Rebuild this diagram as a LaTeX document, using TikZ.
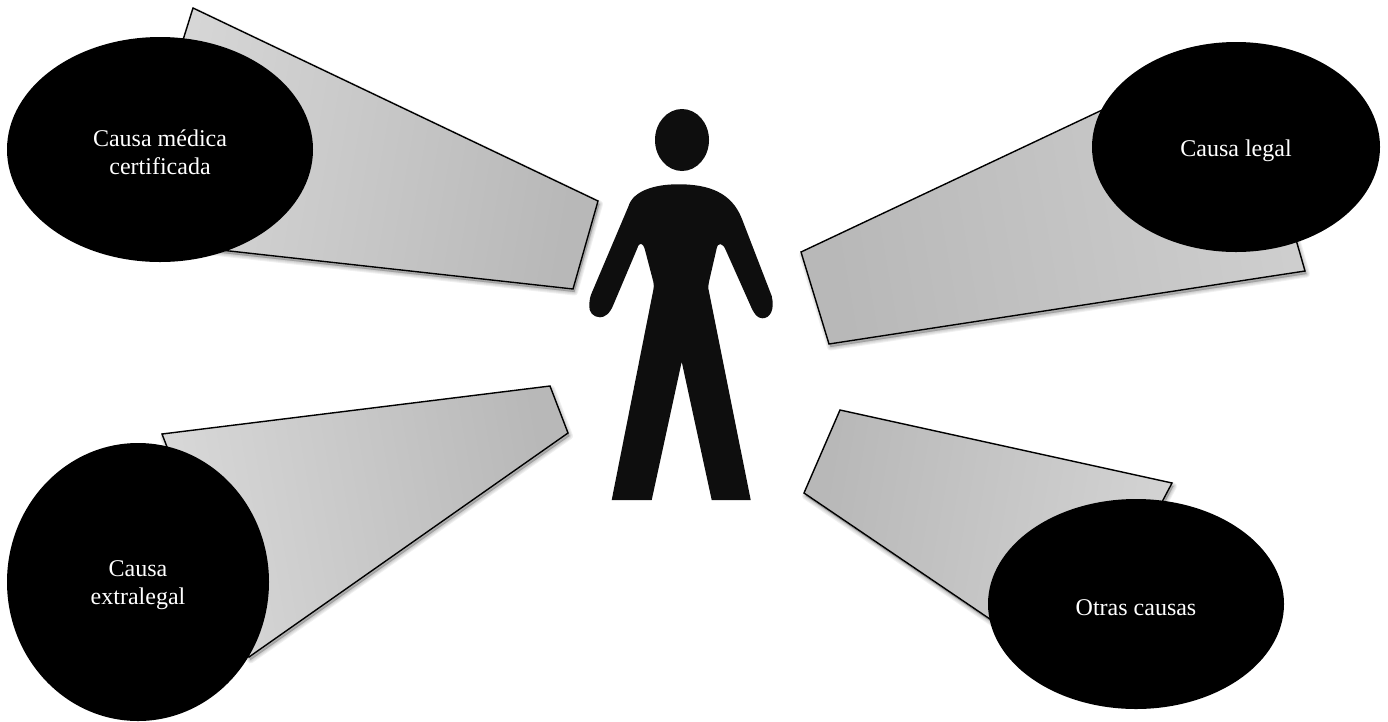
\documentclass[tikz,border=0pt]{standalone}
\usepackage{fontspec}
\setmainfont{Liberation Serif}
\usetikzlibrary{shapes.geometric}
\definecolor{figure}{HTML}{0E0E0E}
\tikzset{
  beam/.style={draw=black, line width=1.4pt, line join=miter},
  blob/.style={ellipse, fill=black, text=white, inner sep=0pt, align=center,
    font=\fontsize{24}{28}\selectfont},
}
% soft shadow under a beam
\newcommand{\beamshadow}[1]{
  \foreach \w in {7,5,3,1}
    \draw[black, opacity=0.06, line width=\w pt, line join=round, fill=black, fill opacity=0.06,
      xshift=1.5pt, yshift=-3pt] #1 -- cycle;
}
\begin{document}
\begin{tikzpicture}[x=1pt,y=-1pt]
  \useasboundingbox (0,0) rectangle (1388,721);
  % beams
  \beamshadow{(193,8) -- (598,201) -- (573,289) -- (121,239)}
  \beamshadow{(801,252) -- (1240,45) -- (1305,271) -- (829,344)}
  \beamshadow{(162,434) -- (550,386) -- (568,433) -- (249,657)}
  \beamshadow{(840,410) -- (1172,483) -- (1071,674) -- (804,493)}
  \draw[beam, left color=black!15, right color=black!28, shading angle=80]
    (193,8) -- (598,201) -- (573,289) -- (121,239) -- cycle;
  \draw[beam, left color=black!28, right color=black!19, shading angle=100]
    (801,252) -- (1240,45) -- (1305,271) -- (829,344) -- cycle;
  \draw[beam, left color=black!15, right color=black!28, shading angle=100]
    (162,434) -- (550,386) -- (568,433) -- (249,657) -- cycle;
  \draw[beam, left color=black!28, right color=black!17, shading angle=80]
    (840,410) -- (1172,483) -- (1071,674) -- (804,493) -- cycle;
  % causes
  \node[blob, minimum width=306pt, minimum height=225pt, text height=50pt] (medica) at (160,149.5) {Causa médica\\certificada};
  \node[blob, minimum width=288pt, minimum height=210pt, text height=24pt] (legal) at (1236,147) {Causa legal};
  \node[blob, minimum width=262pt, minimum height=278pt, text height=50pt] (extralegal) at (138,582) {Causa\\extralegal};
  \node[blob, minimum width=296pt, minimum height=210pt, text height=24pt] (otras) at (1136,604) {Otras causas};
  % person
  \node[ellipse, fill=figure, inner sep=0pt, minimum width=54pt, minimum height=62pt] (head) at (682,140) {};
  \fill[figure] (677.3,184.3)
    .. controls (710,184) and (731.7,193.3) .. (741.7,218.3)
    -- (771.7,296)
    .. controls (775,310) and (770,318.3) .. (762.3,318.3)
    .. controls (757.3,318.3) and (754,313.3) .. (751.7,308.3)
    -- (725.7,250)
    .. controls (723,243) and (718,242) .. (716.7,248.3)
    -- (709,281.7)
    .. controls (708,285) and (708,288) .. (709,291.7)
    -- (750.7,500) -- (711.7,500) -- (681.7,361.7) -- (651.7,500) -- (611.7,500)
    -- (653.3,290)
    .. controls (654,287) and (654,285) .. (653.3,281.7)
    -- (645,250)
    .. controls (643,242) and (639,242) .. (637.3,248.3)
    -- (613.3,305)
    .. controls (610,313.3) and (605,317.3) .. (600,317.3)
    .. controls (593.3,317.3) and (588.3,311.7) .. (589.3,305)
    .. controls (589.5,300) and (590,297) .. (591.7,293)
    -- (628.3,206.7)
    .. controls (633,190) and (656.7,184.3) .. (677.3,184.3) -- cycle;
\end{tikzpicture}
\end{document}
